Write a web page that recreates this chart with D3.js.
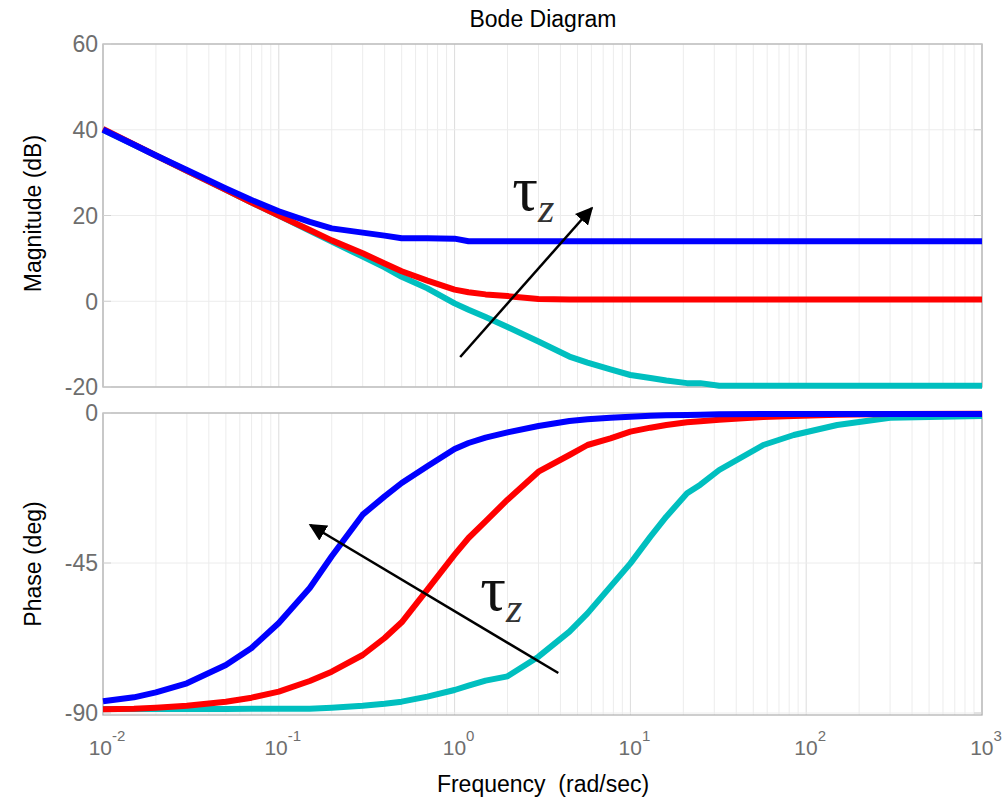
<!DOCTYPE html>
<html>
<head>
<meta charset="utf-8">
<script src="https://cdn.jsdelivr.net/npm/d3@7"></script>
<style>
  body { margin: 0; background: #fff; }
  text { font-family: "Liberation Sans", Arial, sans-serif; }
</style>
</head>
<body>
<script>
// frequencies (rad/sec) the curves were read at
const freqs = [0.01, 0.015, 0.02, 0.03, 0.05, 0.07, 0.1, 0.15, 0.2, 0.3, 0.4, 0.5, 0.7, 1, 1.2, 1.5, 2, 3, 4.5, 5.7, 7.7, 10, 13, 16, 21, 25, 32, 57, 85, 150, 300, 1000];

// magnitude (dB)
const magBlue = [40.0, 36.5, 34.0, 30.6, 26.3, 23.6, 21.0, 18.5, 17.0, 16.0, 15.3, 14.7, 14.7, 14.6, 14.0, 14.0, 14.0, 14.0, 14.0, 14.0, 14.0, 14.0, 14.0, 14.0, 14.0, 14.0, 14.0, 14.0, 14.0, 14.0, 14.0, 14.0];
const magRed = [40.2, 36.6, 34.0, 30.4, 26.0, 23.0, 20.0, 16.6, 14.2, 11.2, 8.8, 7.0, 4.8, 2.7, 2.1, 1.6, 1.2, 0.5, 0.4, 0.4, 0.4, 0.4, 0.4, 0.4, 0.4, 0.4, 0.4, 0.4, 0.4, 0.4, 0.4, 0.4];
const magCyan = [40.0, 36.5, 34.0, 30.4, 26.0, 23.0, 20.0, 16.4, 13.9, 10.4, 7.9, 5.7, 3.0, -0.5, -2.0, -3.7, -6.0, -9.4, -12.9, -14.3, -15.9, -17.2, -17.9, -18.5, -19.1, -19.1, -19.7, -19.7, -19.7, -19.7, -19.7, -19.7];

// phase (deg)
const phBlue = [-86.5, -85.3, -83.8, -81.1, -75.6, -70.5, -63.0, -52.5, -43.0, -30.5, -25.0, -21.0, -16.0, -10.8, -9.0, -7.4, -5.8, -3.9, -2.4, -1.9, -1.4, -1.1, -0.8, -0.7, -0.6, -0.5, -0.4, -0.3, -0.3, -0.3, -0.3, -0.3];
const phRed = [-88.9, -88.7, -88.4, -87.8, -86.6, -85.4, -83.6, -80.4, -77.6, -72.6, -67.5, -62.8, -53.0, -42.5, -37.5, -32.5, -26.0, -17.6, -12.6, -9.6, -7.6, -5.6, -4.4, -3.6, -2.8, -2.5, -2.0, -1.2, -0.9, -0.5, -0.3, -0.2];
const phCyan = [-88.8, -88.8, -88.8, -88.8, -88.8, -88.7, -88.7, -88.7, -88.4, -87.8, -87.2, -86.6, -85.1, -83.1, -81.8, -80.3, -79.0, -73.1, -65.6, -60.1, -52.1, -45.1, -37.1, -31.1, -24.1, -21.5, -17.1, -9.6, -6.6, -3.6, -1.4, -0.9];

const magTicks = [60, 40, 20, 0, -20];
const phaseTicks = [0, -45, -90];
const decades = [-2, -1, 0, 1, 2, 3];

const series = [
  { name: "small", color: "#00bfbf", mag: magCyan, ph: phCyan },
  { name: "mid", color: "#ff0000", mag: magRed, ph: phRed },
  { name: "large", color: "#0000ff", mag: magBlue, ph: phBlue }
];

const width = 1008, height = 798;
const left = 103, right = 982;

const svg = d3.select("body").append("svg")
  .attr("width", width)
  .attr("height", height);

svg.append("defs").append("marker")
  .attr("id", "head")
  .attr("viewBox", "0 0 10 10")
  .attr("refX", 9).attr("refY", 5)
  .attr("markerWidth", 7).attr("markerHeight", 7)
  .attr("markerUnits", "strokeWidth")
  .attr("orient", "auto")
  .append("path")
  .attr("d", "M0,0 L10,5 L0,10 z")
  .attr("fill", "#000");

const x = d3.scaleLog().domain([0.01, 1000]).range([left, right]);
const yMag = d3.scaleLinear().domain([-20, 60]).range([387, 44]);
const yPh = d3.scaleLinear().domain([-90.6, 0]).range([715, 413]);

// minor + major frequency grid values
let gridVals = [];
decades.slice(0, -1).forEach(e => {
  for (let k = 1; k < 10; k++) gridVals.push({ v: k * Math.pow(10, e), major: k === 1 });
});
gridVals.push({ v: 1000, major: true });

function panel(y, ticks, top, bottom) {
  const g = svg.append("g");
  // vertical grid
  g.selectAll("line.vg")
    .data(gridVals)
    .enter().append("line")
    .attr("x1", d => x(d.v)).attr("x2", d => x(d.v))
    .attr("y1", top).attr("y2", bottom)
    .attr("stroke", d => d.major ? "#dcdcdc" : "#ececec")
    .attr("stroke-width", 1);
  // horizontal grid
  g.selectAll("line.hg")
    .data(ticks)
    .enter().append("line")
    .attr("x1", left).attr("x2", right)
    .attr("y1", d => y(d)).attr("y2", d => y(d))
    .attr("stroke", "#ececec");
  // frame
  g.append("rect")
    .attr("x", left).attr("y", top)
    .attr("width", right - left).attr("height", bottom - top)
    .attr("fill", "none")
    .attr("stroke", "#b4b4b4")
    .attr("stroke-width", 1.3);
  // inner ticks left and right
  g.selectAll("line.tl")
    .data(ticks)
    .enter().append("line")
    .attr("x1", left).attr("x2", left + 8)
    .attr("y1", d => y(d)).attr("y2", d => y(d))
    .attr("stroke", "#d0d0d0");
  g.selectAll("line.tr")
    .data(ticks)
    .enter().append("line")
    .attr("x1", right - 8).attr("x2", right)
    .attr("y1", d => y(d)).attr("y2", d => y(d))
    .attr("stroke", "#d0d0d0");
  // tick labels
  g.selectAll("text.yl")
    .data(ticks)
    .enter().append("text")
    .attr("x", left - 5)
    .attr("y", d => y(d))
    .attr("dy", "0.36em")
    .attr("text-anchor", "end")
    .attr("font-size", 23)
    .attr("fill", "#6e6e6e")
    .text(d => d);
  return g;
}

panel(yMag, magTicks, yMag(60), yMag(-20));
panel(yPh, phaseTicks, yPh(0), yPh(-90.6));

const magLine = d3.line().x((d, i) => x(freqs[i])).y(d => yMag(d));
const phLine = d3.line().x((d, i) => x(freqs[i])).y(d => yPh(d));

series.forEach(s => {
  svg.append("path")
    .attr("d", magLine(s.mag))
    .attr("fill", "none")
    .attr("stroke", s.color)
    .attr("stroke-width", 6)
    .attr("stroke-linejoin", "round");
  svg.append("path")
    .attr("d", phLine(s.ph))
    .attr("fill", "none")
    .attr("stroke", s.color)
    .attr("stroke-width", 6)
    .attr("stroke-linejoin", "round");
});

// x tick labels 10^n
const xl = svg.selectAll("text.xl")
  .data(decades)
  .enter().append("text")
  .attr("x", d => x(Math.pow(10, d)) + 4)
  .attr("y", 755)
  .attr("text-anchor", "middle")
  .attr("fill", "#6e6e6e")
  .attr("font-size", 21);
xl.append("tspan").text("10");
xl.append("tspan")
  .attr("font-size", 15)
  .attr("dy", -14)
  .text(d => d);

// titles
svg.append("text")
  .attr("x", 543).attr("y", 27)
  .attr("text-anchor", "middle")
  .attr("font-size", 23)
  .attr("fill", "#000")
  .text("Bode Diagram");

svg.append("text")
  .attr("x", 543).attr("y", 792)
  .attr("text-anchor", "middle")
  .attr("font-size", 23)
  .style("white-space", "pre")
  .text("Frequency  (rad/sec)");

svg.append("text")
  .attr("transform", `translate(41,${(yMag(60) + yMag(-20)) / 2 - 2}) rotate(-90)`)
  .attr("text-anchor", "middle")
  .attr("font-size", 23)
  .text("Magnitude (dB)");

svg.append("text")
  .attr("transform", `translate(41,${(yPh(0) + yPh(-90.6)) / 2}) rotate(-90)`)
  .attr("text-anchor", "middle")
  .attr("font-size", 23)
  .text("Phase (deg)");

// tau_z arrows
const arrows = [
  { from: [1.076, -13], to: [6.04, 21.75], y: yMag },
  { from: [3.89, -78], to: [0.151, -33.6], y: yPh }
];
arrows.forEach(a => {
  svg.append("line")
    .attr("x1", x(a.from[0])).attr("y1", a.y(a.from[1]))
    .attr("x2", x(a.to[0])).attr("y2", a.y(a.to[1]))
    .attr("stroke", "#000")
    .attr("stroke-width", 2.5)
    .attr("marker-end", "url(#head)");
});

const tauLabels = [
  { at: [2.13, 21.3], y: yMag },
  { at: [1.4, -59], y: yPh }
];
tauLabels.forEach(t => {
  const tx = svg.append("text")
    .attr("x", x(t.at[0])).attr("y", t.y(t.at[1]))
    .style("font-family", "'Liberation Serif', 'Times New Roman', serif")
    .attr("fill", "#111");
  tx.append("tspan").attr("font-size", 64).text("τ");
  tx.append("tspan").attr("font-size", 42).attr("font-style", "italic")
    .attr("dy", 12).attr("fill", "#333").text("z");
});
</script>
</body>
</html>
